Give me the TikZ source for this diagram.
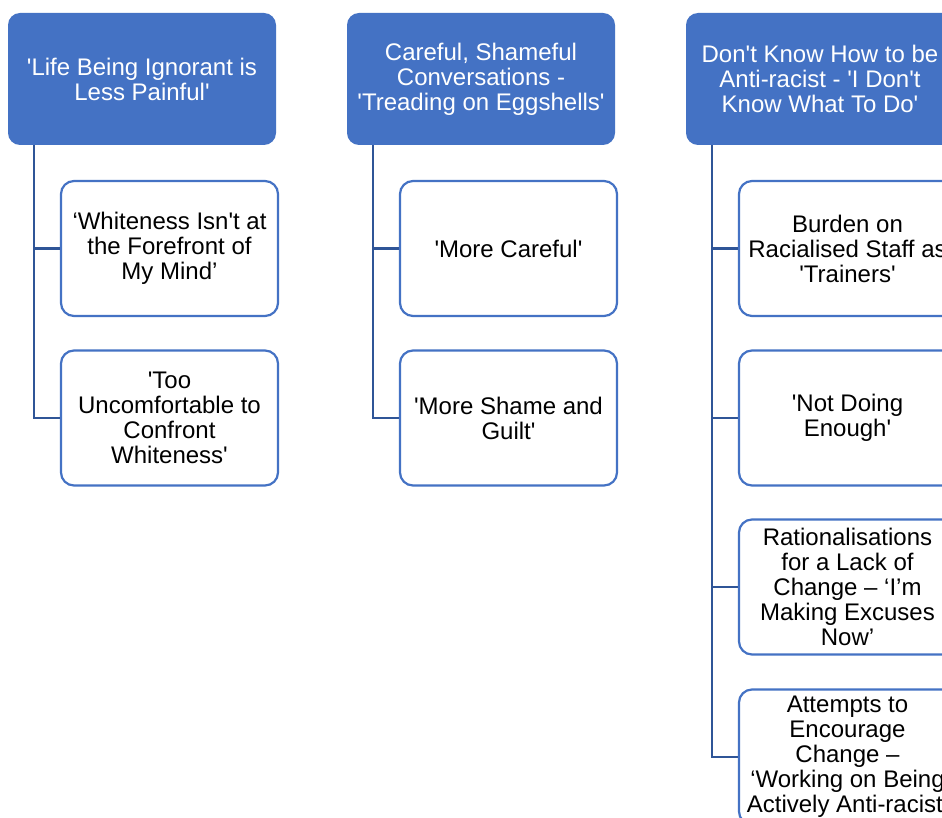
\documentclass[tikz,border=0pt]{standalone}
\usepackage{fontspec}
\setmainfont{Liberation Sans}
\newcommand\sq{\textquotesingle}
\definecolor{hdrblue}{HTML}{4472C4}
\definecolor{linkblue}{HTML}{2F5597}
\begin{document}
\begin{tikzpicture}[x=1pt,y=-1pt,
  every node/.style={font=\fontsize{24}{25}\selectfont, align=center, inner sep=0pt},
  hdr/.style={fill=hdrblue, draw=none, rounded corners=12pt, minimum width=268pt, minimum height=132pt, text=white},
  child/.style={fill=white, draw=hdrblue, line width=2.2pt, rounded corners=13pt, minimum width=217pt, minimum height=135pt, text=black},
  link/.style={draw=linkblue, line width=2.2pt}]
\clip (0,0) rectangle (942,818);
\fill[white] (0,0) rectangle (942,818);

\node[hdr] (h1) at (142,79) {\sq Life Being Ignorant is\\Less Painful\sq};
\node[hdr] (h2) at (481,79) {Careful, Shameful\\Conversations -\\\sq Treading on Eggshells\sq};
\node[hdr] (h3) at (820,79) {Don\sq t Know How to be\\Anti-racist - \sq I Don\sq t\\Know What To Do\sq};

\node[child] (c11) at (169.5,248.5) {‘Whiteness Isn\sq t at\\the Forefront of\\My Mind’};
\node[child] (c12) at (169.5,418) {\sq Too\\Uncomfortable to\\Confront\\Whiteness\sq};

\node[child] (c21) at (508.5,248.5) {\sq More Careful\sq};
\node[child] (c22) at (508.5,418) {\sq More Shame and\\Guilt\sq};

\node[child] (c31) at (847.5,248.5) {Burden on\\Racialised Staff as\\\sq Trainers\sq};
\node[child] (c32) at (847.5,418) {\sq Not Doing\\Enough\sq};
\node[child] (c33) at (847.5,587) {Rationalisations\\for a Lack of\\Change – ‘I’m\\Making Excuses\\Now’};
\node[child] (c34) at (847.5,757) {Attempts to\\Encourage\\Change –\\‘Working on Being\\Actively Anti-racist’};

\coordinate (s1) at ([xshift=26pt]h1.south west);
\coordinate (s2) at ([xshift=26pt]h2.south west);
\coordinate (s3) at ([xshift=26pt]h3.south west);

\draw[link] (s1) |- (c11.west);
\draw[link] (s1) |- (c12.west);
\draw[link] (s2) |- (c21.west);
\draw[link] (s2) |- (c22.west);
\draw[link] (s3) |- (c31.west);
\draw[link] (s3) |- (c32.west);
\draw[link] (s3) |- (c33.west);
\draw[link] (s3) |- (c34.west);
\end{tikzpicture}
\end{document}
